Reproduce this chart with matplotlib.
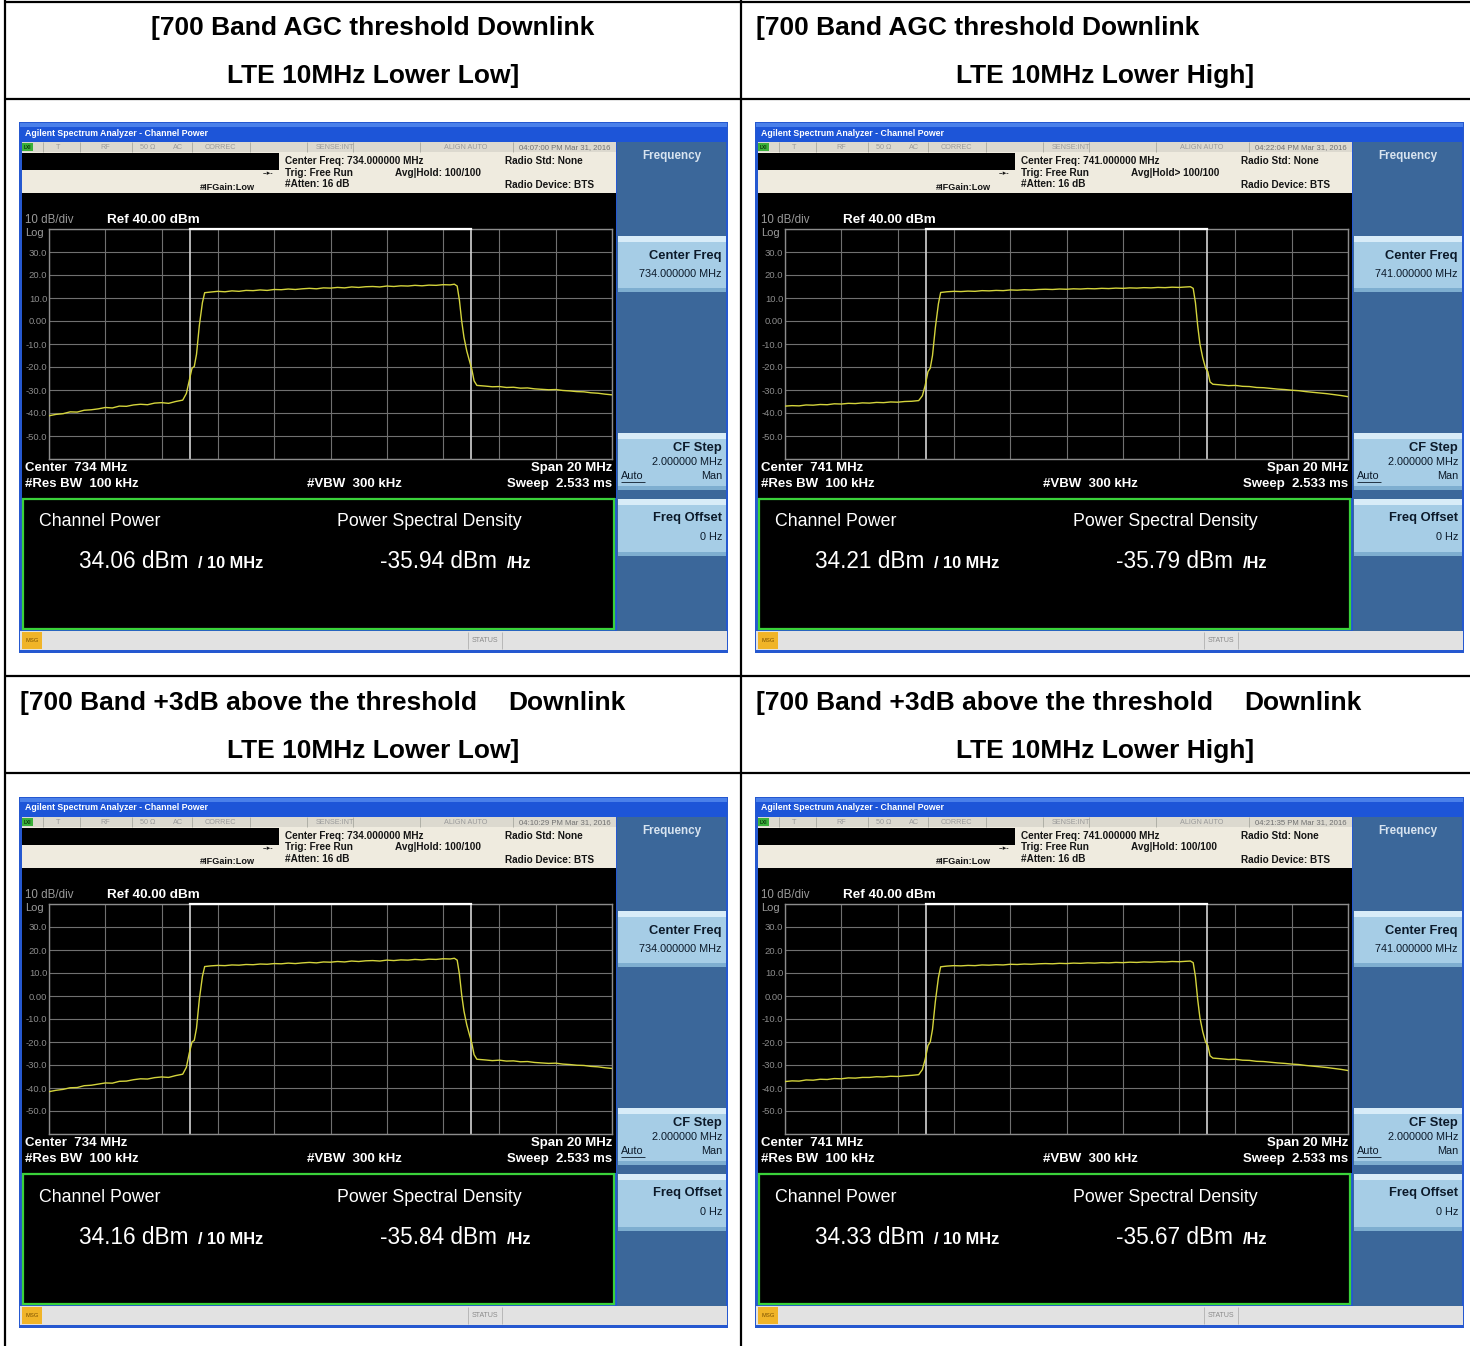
import matplotlib
matplotlib.use('Agg')
import matplotlib.pyplot as plt
from matplotlib.patches import Rectangle
import numpy as np

# ---------------- data ----------------
header_line1 = ["[700 Band AGC threshold Downlink", "[700 Band AGC threshold Downlink",
                "[700 Band +3dB above the threshold", "[700 Band +3dB above the threshold"]
header_line1_tail = ["", "", "Downlink", "Downlink"]
header_line2 = ["LTE 10MHz Lower Low]", "LTE 10MHz Lower High]",
                "LTE 10MHz Lower Low]", "LTE 10MHz Lower High]"]
center_freqs = [734, 741, 734, 741]
timestamps = ["04:07:00 PM Mar 31, 2016", "04:22:04 PM Mar 31, 2016",
              "04:10:29 PM Mar 31, 2016", "04:21:35 PM Mar 31, 2016"]
avg_hold = ["Avg|Hold: 100/100", "Avg|Hold> 100/100", "Avg|Hold: 100/100", "Avg|Hold: 100/100"]
channel_power = ["34.06", "34.21", "34.16", "34.33"]
power_density = ["-35.94", "-35.79", "-35.84", "-35.67"]
y_tick_labels = ['', '-50.0', '-40.0', '-30.0', '-20.0', '-10.0', '0.00', '10.0', '20.0', '30.0', '']

# trace: frequency offset from centre (MHz) and level (dBm)
trace_offsets = [-10, -9.75, -9.5, -9.25, -9, -8.75, -8.5, -8.25, -8, -7.75, -7.5, -7.25, -7, -6.75,
                 -6.5, -6.25, -6, -5.75, -5.5, -5.25,
                 -5.12, -5.02, -4.92, -4.84, -4.76, -4.66, -4.55, -4.47,
                 -4.25, -4, -3.75, -3.5, -3.25, -3, -2.75, -2.5, -2.25, -2, -1.75, -1.5, -1.25, -1,
                 -0.75, -0.5, -0.25, 0, 0.25, 0.5, 0.75, 1, 1.25, 1.5, 1.75, 2, 2.25, 2.5, 2.75, 3,
                 3.25, 3.5, 3.75, 4, 4.25, 4.4,
                 4.5, 4.58, 4.66, 4.74, 4.84, 4.94, 5.02, 5.1, 5.2,
                 5.5, 5.75, 6, 6.25, 6.5, 6.75, 7, 7.25, 7.5, 7.75, 8, 8.25, 8.5, 8.75, 9, 9.25,
                 9.5, 9.75, 10]

trace_agc_low = [-41.2, -40.6, -40.3, -39.5, -39.6, -38.8, -38.6, -38.2, -37.6, -37.8, -37.0, -37.1,
                 -36.5, -36.2, -36.4, -35.7, -35.5, -35.8, -35.0, -34.4,
                 -31.5, -26.0, -20.5, -19.8, -14.5, -2.0, 8.0, 12.3,
                 12.6, 12.9, 12.7, 13.1, 12.9, 13.3, 13.2, 13.5, 13.3, 13.7, 13.6, 13.9, 13.7, 14.0,
                 14.2, 14.0, 14.4, 14.3, 14.6, 14.4, 14.8, 14.6, 14.9, 15.0, 14.8, 15.2, 15.0, 15.3,
                 15.2, 15.5, 15.3, 15.6, 15.5, 15.8, 15.7, 16.0,
                 15.2, 9.0, 0.0, -7.0, -13.0, -17.5, -21.0, -26.0, -28.0,
                 -28.3, -28.6, -28.5, -28.9, -28.8, -29.2, -29.1, -29.5, -29.7, -29.9, -29.8, -30.2,
                 -30.4, -30.7, -30.8, -31.2, -31.4, -31.8, -32.1]

trace_agc_high = [-37.0, -36.8, -36.9, -36.5, -36.6, -36.3, -36.4, -36.0, -36.1, -35.8, -35.9, -35.6,
                  -35.7, -35.4, -35.5, -35.2, -35.3, -35.0, -34.9, -34.6,
                  -32.5, -28.0, -22.0, -20.5, -15.0, -3.0, 7.5, 12.4,
                  12.7, 12.9, 12.8, 13.0, 12.9, 13.2, 13.1, 13.3, 13.2, 13.5, 13.4, 13.6, 13.5, 13.7,
                  13.8, 13.7, 13.9, 13.8, 14.0, 13.9, 14.1, 14.0, 14.2, 14.1, 14.3, 14.2, 14.4, 14.3,
                  14.5, 14.4, 14.6, 14.5, 14.7, 14.6, 14.8, 14.9,
                  14.2, 8.0, -2.0, -10.0, -16.0, -20.5, -22.0, -26.5, -27.5,
                  -27.8, -28.1, -28.0, -28.4, -28.5, -28.9, -29.0, -29.3, -29.6, -29.8, -30.1, -30.3,
                  -30.7, -31.0, -31.3, -31.6, -32.0, -32.4, -32.9]

trace_3db_low = [-41.6, -41.0, -40.6, -39.9, -39.8, -39.0, -38.8, -38.3, -37.8, -37.9, -37.1, -37.0,
                 -36.4, -36.0, -36.1, -35.5, -35.2, -35.4, -34.6, -34.0,
                 -31.0, -25.0, -20.0, -19.3, -14.0, -1.5, 8.5, 12.8,
                 13.1, 13.3, 13.2, 13.5, 13.4, 13.7, 13.6, 13.9, 13.8, 14.1, 14.0, 14.3, 14.1, 14.4,
                 14.6, 14.4, 14.8, 14.7, 15.0, 14.8, 15.2, 15.0, 15.3, 15.4, 15.2, 15.6, 15.4, 15.7,
                 15.6, 15.9, 15.7, 16.0, 15.9, 16.2, 16.1, 16.4,
                 15.6, 9.5, 0.5, -6.5, -12.5, -17.0, -20.5, -25.5, -27.5,
                 -27.8, -28.1, -27.9, -28.3, -28.2, -28.6, -28.5, -28.9, -29.1, -29.3, -29.2, -29.6,
                 -29.8, -30.1, -30.2, -30.6, -30.8, -31.2, -31.5]

trace_3db_high = [-37.2, -36.9, -37.0, -36.5, -36.6, -36.2, -36.3, -35.9, -36.0, -35.6, -35.7, -35.4,
                  -35.4, -35.1, -35.2, -34.9, -35.0, -34.7, -34.5, -34.2,
                  -32.0, -27.5, -21.5, -20.0, -14.5, -2.5, 8.0, 12.7,
                  13.0, 13.2, 13.1, 13.3, 13.2, 13.5, 13.4, 13.6, 13.5, 13.8, 13.7, 13.9, 13.8, 14.0,
                  14.1, 14.0, 14.2, 14.1, 14.3, 14.2, 14.4, 14.3, 14.5, 14.4, 14.6, 14.5, 14.7, 14.6,
                  14.8, 14.7, 14.9, 14.8, 15.0, 14.9, 15.1, 15.2,
                  14.5, 8.5, -1.5, -9.5, -15.5, -20.0, -21.5, -26.0, -27.0,
                  -27.3, -27.6, -27.5, -27.9, -28.0, -28.4, -28.5, -28.8, -29.1, -29.3, -29.6, -29.8,
                  -30.2, -30.5, -30.8, -31.1, -31.5, -31.9, -32.4]

traces = [trace_agc_low, trace_agc_high, trace_3db_low, trace_3db_high]

# ---------------- figure ----------------
W, H = 1470, 1346
fig = plt.figure(figsize=(W / 100, H / 100), dpi=100)
bg = fig.add_axes([0, 0, 1, 1])
bg.set_xlim(0, W)
bg.set_ylim(H, 0)
bg.axis('off')
FONT = ['Liberation Sans', 'DejaVu Sans']

# table lines
lw_tab = 1.6
for x in (5, 741):
    bg.plot([x, x], [0, H], color='black', lw=lw_tab, solid_capstyle='butt')
for y in (2, 99, 676, 773):
    bg.plot([5, W], [y, y], color='black', lw=lw_tab, solid_capstyle='butt')

# headers
cell_centres = [373, 1105]
for i in range(4):
    col, row = i % 2, i // 2
    dy = row * 675
    x_left = 148 if i == 0 else (756 if col == 1 else 20)
    if i == 0:
        bg.text(cell_centres[0], 28 + dy, header_line1[i], ha='center', va='center',
                fontsize=19, fontweight='bold', family=FONT)
    else:
        bg.text(x_left, 28 + dy, header_line1[i], ha='left', va='center',
                fontsize=19, fontweight='bold', family=FONT)
    if header_line1_tail[i]:
        bg.text(x_left + 488, 28 + dy, header_line1_tail[i], ha='left', va='center',
                fontsize=19, fontweight='bold', family=FONT)
    bg.text(cell_centres[col], 76 + dy, header_line2[i], ha='center', va='center',
            fontsize=19, fontweight='bold', family=FONT)


def draw_screen(i, dx, dy):
    def R(x0, y0, x1, y1, fc, ec='none', lw=0, z=1):
        bg.add_patch(Rectangle((x0 + dx, y0 + dy), x1 - x0, y1 - y0, facecolor=fc,
                               edgecolor=ec, linewidth=lw, zorder=z))

    def T(x, y, s, size, color='black', ha='left', weight='bold', z=5, **kw):
        bg.text(x + dx, y + dy, s, fontsize=size, color=color, ha=ha, va='center',
                fontweight=weight, family=FONT, zorder=z, **kw)

    def L(xs, ys, color, lw=0.8, z=3):
        bg.plot([x + dx for x in xs], [y + dy for y in ys], color=color, lw=lw, zorder=z,
                solid_capstyle='butt')

    # window frame + title bar
    R(19, 122, 728, 653, '#2558d0')
    R(20, 123, 727, 142, '#1d55d8', z=2)
    R(20, 123, 727, 127, '#4a80ea', z=2)
    T(25, 133, "Agilent Spectrum Analyzer - Channel Power", 6.3, color='white')
    # status row
    R(22, 142, 616, 152, '#dcd9cf', z=2)
    for x in (43, 80, 132, 192, 250, 307, 353, 420, 513):
        L([x, x], [142, 152], '#a8a8a0', 0.6)
    R(22, 143, 33, 151, '#3ab03a', z=3)
    T(27.5, 147.3, "LXI", 3.4, color='#0a300a', ha='center')
    for x, s in ((58, "T"), (105, "RF"), (148, "50 \u03a9"), (178, "AC"), (220, "CORREC"),
                 (335, "SENSE:INT"), (466, "ALIGN AUTO")):
        T(x, 147.5, s, 5.2, color='#9a9a9a', ha='center', weight='normal')
    T(565, 147.5, timestamps[i], 5.6, color='#707070', ha='center', weight='normal')
    # info area
    R(22, 152, 616, 193, '#efebdf', z=2)
    R(22, 153, 279, 170, 'black', z=3)
    T(285, 161, "Center Freq: %d.000000 MHz" % center_freqs[i], 7.2, color='#151515')
    T(285, 172.5, "Trig: Free Run", 7.2, color='#151515')
    T(285, 184, "#Atten: 16 dB", 7.2, color='#151515')
    T(395, 172.5, avg_hold[i], 7.2, color='#151515')
    T(505, 161, "Radio Std: None", 7.2, color='#151515')
    T(505, 185, "Radio Device: BTS", 7.2, color='#151515')
    T(200, 187, "#IFGain:Low", 6.6, color='#151515')
    T(268, 173.5, "--\u25b8-", 5.0, color='#151515', ha='center')
    # black screen
    R(22, 193, 616, 498, 'black', z=2)
    T(25, 220, "10 dB/div", 8.3, color='#9a9a9a', weight='normal')
    T(107, 220, "Ref 40.00 dBm", 9.7, color='white')
    T(25, 233, "Log", 8.0, color='#9a9a9a', weight='normal')
    T(25, 468, "Center  %d MHz" % center_freqs[i], 9.5, color='white')
    T(25, 484, "#Res BW  100 kHz", 9.5, color='white')
    T(307, 484, "#VBW  300 kHz", 9.5, color='white')
    T(612, 468, "Span 20 MHz", 9.5, color='white', ha='right')
    T(612, 484, "Sweep  2.533 ms", 9.5, color='white', ha='right')
    # measurement box
    R(23, 499, 614, 629, 'black', ec='#3ad23a', lw=1.6, z=3)
    T(39, 522, "Channel Power", 12.8, color='white', weight='normal')
    T(79, 562, "%s dBm" % channel_power[i], 16.3, color='white', weight='normal')
    T(198, 564, "/ 10 MHz", 11.8, color='white')
    T(337, 522, "Power Spectral Density", 12.8, color='white', weight='normal')
    T(380, 562, "%s dBm" % power_density[i], 16.3, color='white', weight='normal')
    T(507, 564, "/Hz", 11.8, color='white')
    # softkey panel
    R(617, 142, 726, 631, '#3b679a', z=2)
    T(672, 156, "Frequency", 8.4, color='#d8e4f0', ha='center')
    for (y0, y1) in ((236, 292), (433, 490), (499, 556)):
        R(618, y0, 726, y1, '#a6cde6', z=3)
        R(618, y0, 726, y0 + 6, '#d8ecf8', z=3)
        R(618, y1 - 4, 726, y1, '#7eaed0', z=3)
    T(722, 256, "Center Freq", 9.3, color='#0c1a2a', ha='right')
    T(722, 274, "%d.000000 MHz" % center_freqs[i], 7.8, color='#0c1a2a', ha='right', weight='normal')
    T(722, 448, "CF Step", 9.3, color='#0c1a2a', ha='right')
    T(722, 462, "2.000000 MHz", 7.8, color='#0c1a2a', ha='right', weight='normal')
    T(621, 476, "Auto", 7.8, color='#0c1a2a', weight='normal')
    L([621, 645], [482, 482], '#0c1a2a', 0.6, z=6)
    T(722, 476, "Man", 7.8, color='#0c1a2a', ha='right', weight='normal')
    T(722, 518, "Freq Offset", 9.3, color='#0c1a2a', ha='right')
    T(722, 537, "0 Hz", 7.8, color='#0c1a2a', ha='right', weight='normal')
    # bottom status bar
    R(20, 631, 727, 650, '#e2e2e2', z=2)
    R(22, 632, 42, 649, '#f0b428', z=3)
    T(32, 640.5, "MSG", 4.2, color='#7a5000', ha='center', weight='normal')
    L([468, 468], [632, 649], '#b0b0b0', 0.6)
    L([502, 502], [632, 649], '#b0b0b0', 0.6)
    T(485, 640.5, "STATUS", 5.0, color='#8a8a8a', ha='center', weight='normal')

    # spectrum trace axes
    x0, y0, x1, y1 = 49 + dx, 229 + dy, 612 + dx, 459 + dy
    ax = fig.add_axes([x0 / W, 1 - y1 / H, (x1 - x0) / W, (y1 - y0) / H])
    c = center_freqs[i]
    ax.set_facecolor('black')
    ax.set_xlim(c - 10, c + 10)
    ax.set_ylim(-60, 40)
    ax.set_xticks(np.linspace(c - 10, c + 10, 11))
    ax.set_yticks(np.arange(-60, 41, 10))
    ax.set_yticklabels(y_tick_labels)
    ax.grid(True, color='#707070', lw=0.8)
    ax.tick_params(length=0, labelbottom=False, labelleft=True, colors='#8c8c8c',
                   labelsize=6.8, pad=1.2)
    for lab in ax.get_yticklabels():
        lab.set_family(FONT)
    for s in ax.spines.values():
        s.set_color('#8c8c8c')
        s.set_linewidth(1.0)
    ax.axvline(c - 5, color='#d4d4d4', lw=1.2)
    ax.axvline(c + 5, color='#d4d4d4', lw=1.2)
    ax.plot([c - 5, c + 5], [40, 40], color='white', lw=1.6, clip_on=False, zorder=4)
    ax.plot(c + np.array(trace_offsets), traces[i], color='#d4d43c', lw=1.0, zorder=5)


offsets = [(0, 0), (736, 0), (0, 675), (736, 675)]
for i, (dx, dy) in enumerate(offsets):
    draw_screen(i, dx, dy)

fig.savefig('out.png', dpi=100)
